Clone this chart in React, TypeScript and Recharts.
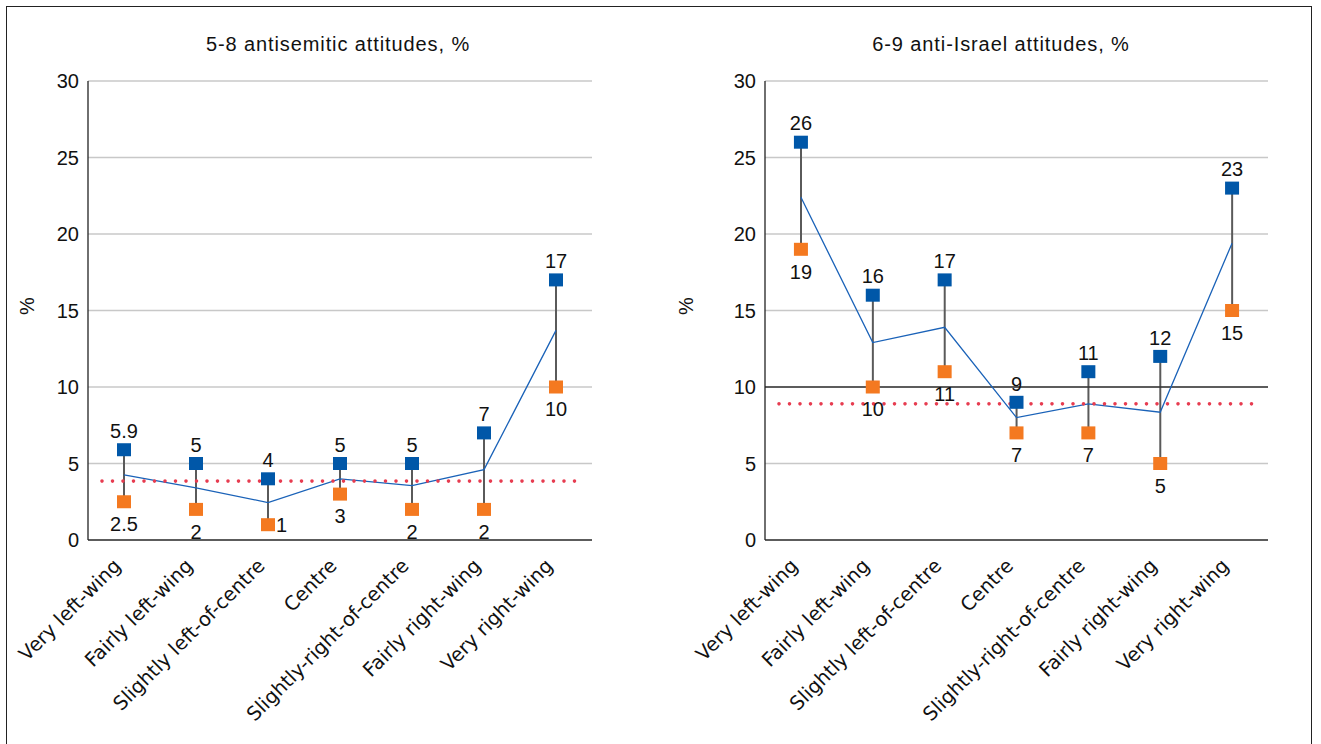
import React from 'react'
import {
  ComposedChart,
  Line,
  Bar,
  XAxis,
  YAxis,
  CartesianGrid,
  ReferenceLine,
  LabelList,
} from 'recharts'

const categories = [
  'Very left-wing',
  'Fairly left-wing',
  'Slightly left-of-centre',
  'Centre',
  'Slightly-right-of-centre',
  'Fairly right-wing',
  'Very right-wing',
]
const yTicks = [0, 5, 10, 15, 20, 25, 30]

// 5-8 antisemitic attitudes
const antisemHigh = [5.9, 5, 4, 5, 5, 7, 17]
const antisemLow = [2.5, 2, 1, 3, 2, 2, 10]
const antisemMean = [4.25, 3.4, 2.45, 4.0, 3.55, 4.6, 13.7]
const antisemAvg = 3.85

// 6-9 anti-Israel attitudes
const israelHigh = [26, 16, 17, 9, 11, 12, 23]
const israelLow = [19, 10, 11, 7, 7, 5, 15]
const israelMean = [22.4, 12.9, 13.9, 8.0, 8.9, 8.35, 19.4]
const israelAvg = 8.9

const SANS = '"Liberation Sans", Arial, sans-serif'
const WIDE = '"DejaVu Sans", Verdana, sans-serif'
const BLUE = '#0057a8'
const ORANGE = '#f47920'
const PLOT_TOP = 81
const PLOT_BOTTOM = 540

type Row = { name: string; high: number; low: number; mean: number }

const buildRows = (high: number[], low: number[], mean: number[]): Row[] =>
  categories.map((name, i) => ({ name, high: high[i], low: low[i], mean: mean[i] }))

const square = (color: string) => (p: any) => (
  <rect key={`sq-${p.index}`} x={p.cx - 7} y={p.cy - 6.5} width={14} height={13} fill={color} />
)

const highLabel = (p: any) => (
  <text key={`hl-${p.index}`} x={p.x} y={p.y - 19} dy="0.36em" textAnchor="middle" fontSize={20} fontFamily={SANS} fill="#111">
    {p.value}
  </text>
)

const lowLabel = (p: any) => {
  // a label that would sink under the axis goes to the right of its marker
  const below = p.y + 22
  if (below + 6 > PLOT_BOTTOM) {
    return (
      <text key={`ll-${p.index}`} x={p.x + 8} y={p.y} dy="0.36em" textAnchor="start" fontSize={20} fontFamily={SANS} fill="#111">
        {p.value}
      </text>
    )
  }
  return (
    <text key={`ll-${p.index}`} x={p.x} y={below} dy="0.36em" textAnchor="middle" fontSize={20} fontFamily={SANS} fill="#111">
      {p.value}
    </text>
  )
}

const XTick = (p: any) => {
  const ax = p.x - 2
  const ay = p.y + 27
  return (
    <text x={ax} y={ay} transform={`rotate(-45, ${ax}, ${ay})`} textAnchor="end" fontSize={19.5} fontFamily={WIDE} fill="#111">
      {p.payload.value}
    </text>
  )
}

const dottedLine = (p: any) => (
  <line
    x1={p.x1 + 14}
    x2={p.x2 - 13}
    y1={p.y1}
    y2={p.y2}
    stroke="#e73c50"
    strokeWidth={3.6}
    strokeLinecap="round"
    strokeDasharray="0 10.5"
  />
)

interface PanelProps {
  title: string
  rows: Row[]
  avg: number
  left: number
  marginLeft: number
  marginRight: number
  titleX: number
  pctX: number
  darkTen?: boolean
}

function Panel({ title, rows, avg, left, marginLeft, marginRight, titleX, pctX, darkTen }: PanelProps) {
  return (
    <>
      <div
        style={{
          position: 'absolute',
          left: titleX - 250,
          top: 34,
          width: 500,
          textAlign: 'center',
          fontFamily: SANS,
          fontSize: 20,
          lineHeight: '20px',
          letterSpacing: 0.9,
          color: '#111',
        }}
      >
        {title}
      </div>
      <div
        style={{
          position: 'absolute',
          left: pctX - 20,
          top: 296,
          width: 40,
          height: 20,
          lineHeight: '20px',
          textAlign: 'center',
          transform: 'rotate(-90deg)',
          fontFamily: SANS,
          fontSize: 20,
          color: '#111',
        }}
      >
        %
      </div>
      <div style={{ position: 'absolute', left, top: 0 }}>
        <ComposedChart
          width={660}
          height={744}
          data={rows}
          margin={{ top: PLOT_TOP, right: marginRight, bottom: 744 - PLOT_BOTTOM - 150, left: marginLeft }}
        >
          <CartesianGrid vertical={false} stroke="#c8c8c8" strokeWidth={1.3} />
          <XAxis
            dataKey="name"
            height={150}
            interval={0}
            axisLine={{ stroke: '#333', strokeWidth: 1.5 }}
            tickLine={false}
            tickSize={0}
            tickMargin={0}
            tick={<XTick />}
          />
          <YAxis
            width={40}
            domain={[0, 30]}
            ticks={yTicks}
            axisLine={{ stroke: '#222', strokeWidth: 1.3 }}
            tickLine={false}
            tickSize={0}
            tickMargin={9}
            tick={{ fill: '#111', fontSize: 20, fontFamily: SANS }}
          />
          {darkTen && <ReferenceLine y={10} stroke="#333" strokeWidth={1.3} />}
          <Bar dataKey={(d: Row) => [d.low, d.high]} barSize={2} fill="#5a5a5a" isAnimationActive={false} />
          <Line
            type="linear"
            dataKey="mean"
            stroke="#1a62b8"
            strokeWidth={1.3}
            dot={false}
            activeDot={false}
            isAnimationActive={false}
          />
          <ReferenceLine y={avg} shape={dottedLine} />
          <Line
            dataKey="low"
            stroke="none"
            dot={square(ORANGE)}
            activeDot={false}
            isAnimationActive={false}
          >
            <LabelList dataKey="low" content={lowLabel} />
          </Line>
          <Line
            dataKey="high"
            stroke="none"
            dot={square(BLUE)}
            activeDot={false}
            isAnimationActive={false}
          >
            <LabelList dataKey="high" content={highLabel} />
          </Line>
        </ComposedChart>
      </div>
    </>
  )
}

export default function App() {
  const antisemRows = buildRows(antisemHigh, antisemLow, antisemMean)
  const israelRows = buildRows(israelHigh, israelLow, israelMean)
  return (
    <div style={{ position: 'absolute', left: 0, top: 0, width: 1321, height: 744, background: '#fff', overflow: 'hidden' }}>
      <div
        style={{
          position: 'absolute',
          left: 6,
          top: 6,
          width: 1304,
          height: 760,
          border: '1px solid #222',
        }}
      />
      <Panel
        title="5-8 antisemitic attitudes, %"
        rows={antisemRows}
        avg={antisemAvg}
        left={0}
        marginLeft={48}
        marginRight={68}
        titleX={338}
        pctX={27}
      />
      <Panel
        title="6-9 anti-Israel attitudes, %"
        rows={israelRows}
        avg={israelAvg}
        left={660}
        marginLeft={65}
        marginRight={52}
        titleX={1001}
        pctX={686}
        darkTen
      />
    </div>
  )
}
